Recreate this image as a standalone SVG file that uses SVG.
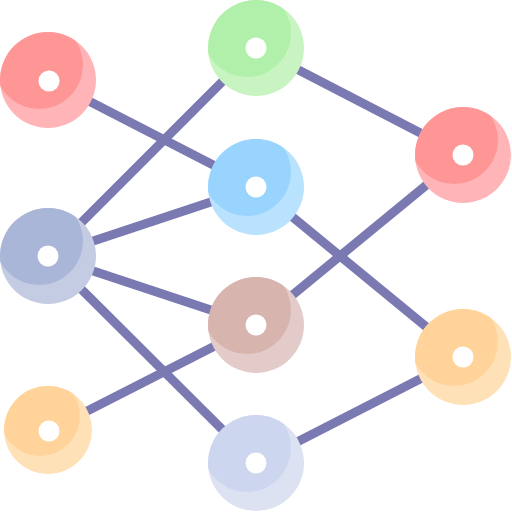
<svg xmlns="http://www.w3.org/2000/svg" width="512" height="512" viewBox="0 0 512 512">
<defs>
<style>
.link{stroke:#7b79b2;stroke-width:9;stroke-linecap:butt;fill:none}
.dot{fill:#ffffff}
</style>
<clipPath id="c48"><circle cx="0" cy="0" r="48"/></clipPath>
<clipPath id="c44"><circle cx="0" cy="0" r="44"/></clipPath>
</defs>
<g id="connectors">
<line class="link" x1="48" y1="80" x2="256" y2="187"/>
<line class="link" x1="48" y1="256" x2="256" y2="48"/>
<line class="link" x1="48" y1="256" x2="256" y2="187"/>
<line class="link" x1="48" y1="256" x2="256" y2="325"/>
<line class="link" x1="48" y1="256" x2="256" y2="463"/>
<line class="link" x1="48" y1="431" x2="256" y2="325"/>
<line class="link" x1="256" y1="48" x2="463" y2="155"/>
<line class="link" x1="256" y1="187" x2="463" y2="357"/>
<line class="link" x1="256" y1="325" x2="463" y2="155"/>
<line class="link" x1="256" y1="463" x2="463" y2="357"/>
</g>
<g id="node-a" transform="translate(48,80)">
<circle r="48" fill="#ffb5b8"/><circle cx="-9" cy="-15" r="44" fill="#ff9696" clip-path="url(#c48)"/><circle class="dot" cx="1" cy="1" r="10.5"/>
</g>
<g id="node-b" transform="translate(256,48)">
<circle r="48" fill="#c8f4c2"/><circle cx="-9" cy="-15" r="44" fill="#b1f0aa" clip-path="url(#c48)"/><circle class="dot" cx="0" cy="0" r="10.5"/>
</g>
<g id="node-c" transform="translate(48,256)">
<circle r="48" fill="#c4cce3"/><circle cx="-9" cy="-15" r="44" fill="#aab6d8" clip-path="url(#c48)"/><circle class="dot" cx="0" cy="0" r="10.5"/>
</g>
<g id="node-d" transform="translate(256,187)">
<circle r="48" fill="#b9e2ff"/><circle cx="-9" cy="-15" r="44" fill="#99d4ff" clip-path="url(#c48)"/><circle class="dot" cx="0" cy="0" r="10.5"/>
</g>
<g id="node-e" transform="translate(463,155)">
<circle r="48" fill="#ffb5b8"/><circle cx="-9" cy="-15" r="44" fill="#ff9696" clip-path="url(#c48)"/><circle class="dot" cx="0" cy="0" r="10.5"/>
</g>
<g id="node-f" transform="translate(256,325)">
<circle r="48" fill="#e3cbc9"/><circle cx="-9" cy="-15" r="44" fill="#d8b4ae" clip-path="url(#c48)"/><circle class="dot" cx="0" cy="0" r="10.5"/>
</g>
<g id="node-g" transform="translate(463,357)">
<circle r="48" fill="#ffe1b8"/><circle cx="-9" cy="-15" r="44" fill="#ffd399" clip-path="url(#c48)"/><circle class="dot" cx="0" cy="0" r="10.5"/>
</g>
<g id="node-h" transform="translate(48,430)">
<circle r="44" fill="#ffe1b8"/><circle cx="-8" cy="-14" r="40" fill="#ffd399" clip-path="url(#c44)"/><circle class="dot" cx="1" cy="1" r="10.5"/>
</g>
<g id="node-i" transform="translate(256,463)">
<circle r="48" fill="#dce2f2"/><circle cx="-9" cy="-15" r="44" fill="#ccd6ee" clip-path="url(#c48)"/><circle class="dot" cx="0" cy="0" r="10.5"/>
</g>
</svg>
